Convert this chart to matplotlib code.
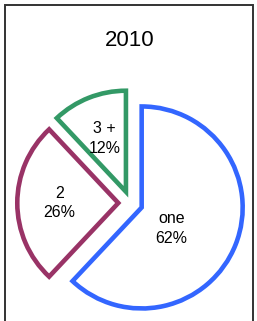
import numpy as np
import matplotlib
matplotlib.use('Agg')
import matplotlib.pyplot as plt
import matplotlib.patches as mpatches

plt.rcParams['font.family'] = ['Liberation Sans', 'DejaVu Sans']

# data
title = '2010'
categories = ['one', '2', '3 +']
shares = [62, 26, 12]
colors = ['#3366ff', '#993366', '#339966']

# layout
W, H, DPI = 257, 321, 100
R_PX = 101.0                 # pie radius in pixels
CX_PX, CY_PX = 130.4, 203.0  # pie centre (pixels from top-left)
label_dist = [0.36, 0.58, 0.57]
label_turn = [-13, 0, 0]


fig = plt.figure(figsize=(W / DPI, H / DPI), dpi=DPI, facecolor='white')
ax = fig.add_axes([0, 0, 1, 1])

wedges, _ = ax.pie(shares, colors=['white'] * 3, startangle=90, counterclock=False,
                   explode=[0.12] * 3, radius=1.0,
                   wedgeprops=dict(linewidth=3.3, joinstyle='miter'))
for w, c in zip(wedges, colors):
    w.set_edgecolor(c)

ax.set_aspect('auto')
ax.set_xlim(-CX_PX / R_PX, (W - CX_PX) / R_PX)
ax.set_ylim(-(H - CY_PX) / R_PX, CY_PX / R_PX)
ax.axis('off')

# labels inside wedges
for w, cat, val, d, t in zip(wedges, categories, shares, label_dist, label_turn):
    mid = np.deg2rad((w.theta1 + w.theta2) / 2 + t)
    x0, y0 = w.center
    ax.text(x0 + d * np.cos(mid), y0 + d * np.sin(mid), '%s\n%d%%' % (cat, val),
            ha='center', va='center', fontsize=11.5, linespacing=1.4, color='black')

fig.text(130 / W, 1 - 40 / H, title, ha='center', va='center', fontsize=16, color='black')

# outer frame (left, top, right; bottom is cut off)
frame = mpatches.Rectangle((4.5 / W, -0.1), 248 / W, 1.1 - 4.5 / H, transform=fig.transFigure,
                           fill=False, edgecolor='#333333', linewidth=1.4)
fig.patches.append(frame)

fig.savefig('out.png', dpi=DPI, facecolor='white')
